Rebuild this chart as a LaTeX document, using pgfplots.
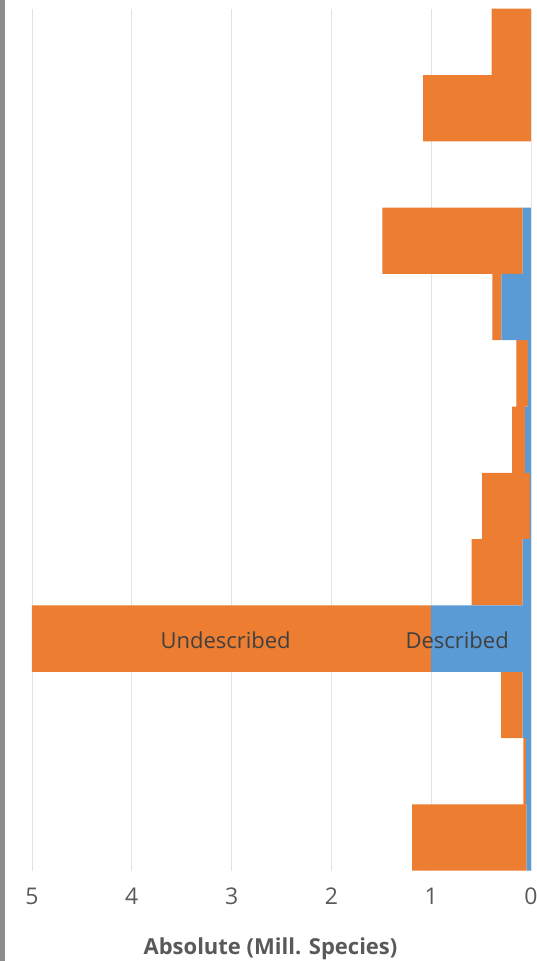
\documentclass[border=0pt]{standalone}
\usepackage{pgfplots}
\pgfplotsset{compat=1.18}
\usepackage{fontspec}
\setmainfont{Open Sans}
\definecolor{cOrange}{HTML}{ED7D31}
\definecolor{cBlue}{HTML}{5B9BD5}
\definecolor{cGrid}{HTML}{E3E3E3}
\definecolor{cText}{HTML}{595959}
\definecolor{cLabel}{HTML}{404040}
\definecolor{cStrip}{HTML}{8C8C8C}
\pgfplotstableread{
row desc undesc
1  0     0.395
2  0     1.08
3  0     0
4  0.085 1.405
5  0.296 0.09
6  0.03  0.116
7  0.06  0.13
8  0.01  0.48
9  0.085 0.51
10 1.0   4.0
11 0.085 0.215
12 0.05  0.026
13 0.043 1.147
}\datatable
\begin{document}
\begin{tikzpicture}
\path[use as bounding box] (0,0) rectangle (537pt,961pt);
\fill[cStrip] (0,0) rectangle (5pt,961pt);
\begin{axis}[
  at={(32pt,90.3pt)}, anchor=south west,
  scale only axis, width=499pt, height=862pt,
  xbar stacked, bar width=66.3pt,
  x dir=reverse, y dir=reverse,
  xmin=0, xmax=5, ymin=0.5, ymax=13.5,
  axis line style={draw=none},
  xtick={0,1,2,3,4,5}, ytick=\empty,
  major tick length=0pt,
  xmajorgrids, grid style={cGrid, line width=0.8pt},
  xticklabel style={font=\fontsize{23}{27}\selectfont, text=cText, yshift=-14pt},
  /pgf/number format/assume math mode=true,
  xlabel={Absolute (Mill. Species)},
  xlabel style={font=\bfseries\fontsize{22}{26}\selectfont, text=cText, xshift=-11pt, yshift=-26pt},
  clip=false,
]
\addplot[fill=cBlue, draw=none] table[x=desc, y=row] {\datatable};
\addplot[fill=cOrange, draw=none] table[x=undesc, y=row] {\datatable};
\coordinate (lu) at (axis cs:3.06,10.03);
\coordinate (ld) at (axis cs:0.74,10.03);
\end{axis}
\node[text=cLabel, font=\fontsize{22}{26}\selectfont] at (lu) {Undescribed};
\node[text=cLabel, font=\fontsize{22}{26}\selectfont] at (ld) {Described};
\end{tikzpicture}
\end{document}
